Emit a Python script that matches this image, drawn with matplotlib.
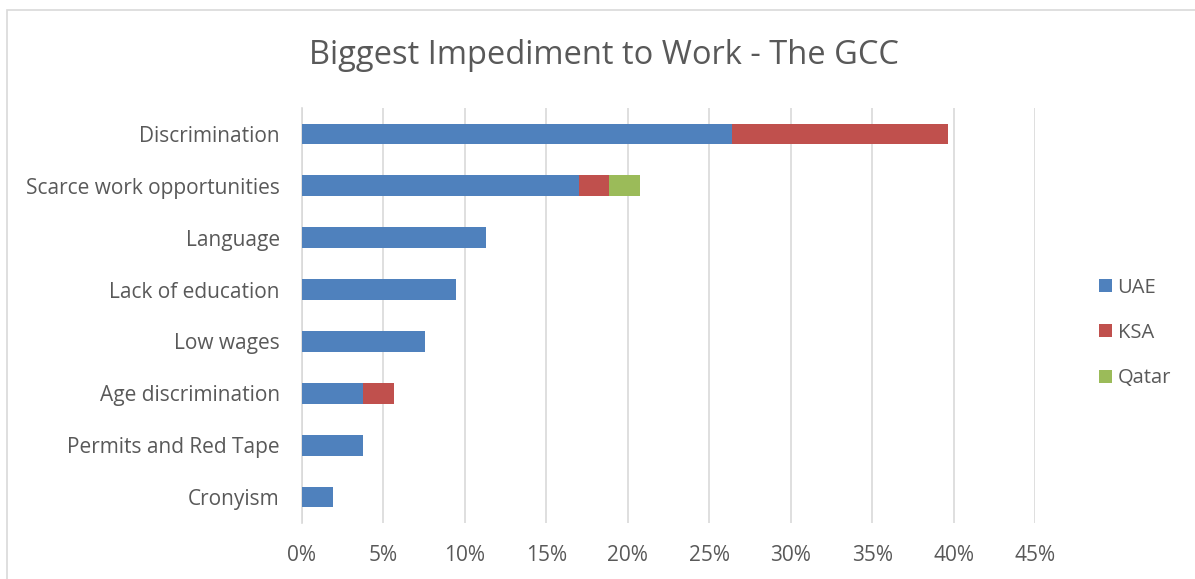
import matplotlib
matplotlib.use("Agg")
import matplotlib.pyplot as plt
from matplotlib.patches import Rectangle
from matplotlib.ticker import FuncFormatter, MultipleLocator

plt.rcParams.update({
    "font.family": ["Open Sans", "DejaVu Sans"],
    "text.color": "#595959",
    "axes.labelcolor": "#595959",
    "xtick.color": "#595959",
    "ytick.color": "#595959",
})

CATEGORIES = ["Discrimination", "Scarce work opportunities", "Language",
              "Lack of education", "Low wages", "Age discrimination",
              "Permits and Red Tape", "Cronyism"]
# share of respondents, percent
UAE = [26.42, 16.98, 11.32, 9.43, 7.55, 3.77, 3.77, 1.89]
KSA = [13.21, 1.89, 0.0, 0.0, 0.0, 1.89, 0.0, 0.0]
QATAR = [0.0, 1.89, 0.0, 0.0, 0.0, 0.0, 0.0, 0.0]
SERIES = ["UAE", "KSA", "Qatar"]
COLORS = ["#4F81BD", "#C0504D", "#9BBB59"]

fig = plt.figure(figsize=(11.95, 5.79), dpi=100)
ax = fig.add_axes([0.2527, 0.0967, 0.6134, 0.7168])

# outer chart border (only top/left edges fall inside the canvas)
fig.patches.append(Rectangle((7 / 1195, -0.05), 1.2, 1 - 10 / 579 + 0.05,
                             transform=fig.transFigure, fill=False,
                             edgecolor="#d9d9d9", linewidth=1.2))

ypos = list(range(len(CATEGORIES)))
left = [0.0] * len(CATEGORIES)
for name, vals, col in zip(SERIES, [UAE, KSA, QATAR], COLORS):
    ax.barh(ypos, vals, left=left, height=0.4, color=col, label=name,
            zorder=3)
    left = [a + b for a, b in zip(left, vals)]

ax.set_xlim(0, 45)
ax.set_ylim(len(CATEGORIES) - 0.5, -0.5)
ax.xaxis.set_major_locator(MultipleLocator(5))
ax.xaxis.set_major_formatter(FuncFormatter(lambda v, p: f"{v:.0f}%"))
ax.set_yticks(ypos)
ax.set_yticklabels(CATEGORIES)
ax.tick_params(axis="both", length=0, labelsize=15)
ax.tick_params(axis="x", pad=16)
ax.tick_params(axis="y", pad=16)
ax.grid(axis="x", color="#d9d9d9", linewidth=1.2, zorder=0)
for s in ["top", "right", "bottom"]:
    ax.spines[s].set_visible(False)
ax.spines["left"].set_color("#d9d9d9")
ax.spines["left"].set_linewidth(1.2)

fig.text(604 / 1195, 1 - 56 / 579, "Biggest Impediment to Work - The GCC",
         ha="center", va="center", fontsize=23.5, color="#595959")

ax.legend(loc="center left", bbox_to_anchor=(1089 / 1195, 1 - 333 / 579),
          bbox_transform=fig.transFigure, frameon=False, fontsize=14.5,
          handlelength=0.62, handleheight=0.62, handletextpad=0.3,
          labelspacing=1.25, borderpad=0)

fig.savefig("out.png", dpi=100)
